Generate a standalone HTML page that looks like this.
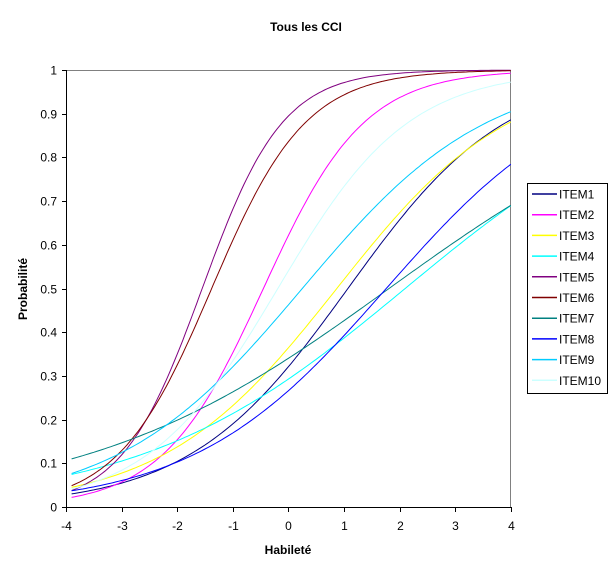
<!DOCTYPE html>
<html><head><meta charset="utf-8"><style>
body{margin:0;background:#fff;}
svg{display:block;font-family:"Liberation Sans",Arial,sans-serif;}
</style></head><body>
<svg id="s" width="613" height="574" viewBox="0 0 613 574" xmlns="http://www.w3.org/2000/svg">
<rect width="613" height="574" fill="#fff"/>
<text x="306" y="31" font-size="12" font-weight="bold" text-anchor="middle">Tous les CCI</text>
<text x="288" y="554" font-size="12" font-weight="bold" text-anchor="middle">Habileté</text>
<text transform="translate(27,289) rotate(-90)" font-size="12" font-weight="bold" text-anchor="middle">Probabilité</text>
<line x1="66" y1="70.5" x2="510" y2="70.5" stroke="#808080"/>
<line x1="510.5" y1="70" x2="510.5" y2="507" stroke="#808080"/>
<g id="curves" fill="none" stroke-width="1"></g>
<line x1="66.5" y1="70" x2="66.5" y2="508" stroke="#000"/>
<line x1="66" y1="507.5" x2="511" y2="507.5" stroke="#000"/>
<g id="ticks" stroke="#000"></g>
<g id="labels" font-size="12"></g>
<rect x="527.5" y="183.5" width="80" height="210" fill="#fff" stroke="#000"/>
<g id="legend" font-size="12"></g>
</svg>
<script>
var NS="http://www.w3.org/2000/svg";
function X(t){return 66+(t+4)*55.6;}
function Y(p){return 507-p*437;}
var items=[
["ITEM1","#000080",0.70,1.07],
["ITEM2","#ff00ff",1.1,-0.45],
["ITEM3","#ffff00",0.64,0.87],
["ITEM4","#00ffff",0.42,2.1],
["ITEM5","#800080",1.38,-1.55],
["ITEM6","#800000",1.18,-1.38],
["ITEM7","#008080",0.366,1.81],
["ITEM8","#0000ff",0.576,1.76],
["ITEM9","#00ccff",0.6,0.25],
["ITEM10","#ccffff",0.85,-0.19]];
var cg=document.getElementById("curves"),lg=document.getElementById("legend");
items.forEach(function(it,i){
 var d="";
 for(var t=-3.9;t<=4.0001;t+=0.05){
  var p=1/(1+Math.exp(-it[2]*(t-it[3])));
  d+=(d?"L":"M")+X(t).toFixed(1)+" "+Y(p).toFixed(1);
 }
 var pa=document.createElementNS(NS,"path");
 pa.setAttribute("d",d);pa.setAttribute("stroke",it[1]);cg.appendChild(pa);
 var y=194+i*20.7;
 var l=document.createElementNS(NS,"line");
 l.setAttribute("x1",532);l.setAttribute("x2",557);l.setAttribute("y1",y);l.setAttribute("y2",y);
 l.setAttribute("stroke",it[1]);l.setAttribute("stroke-width",1.5);lg.appendChild(l);
 var tx=document.createElementNS(NS,"text");
 tx.setAttribute("x",559);tx.setAttribute("y",y+4.5);tx.textContent=it[0];lg.appendChild(tx);
});
var tg=document.getElementById("ticks"),lb=document.getElementById("labels");
for(var k=0;k<=10;k++){
 var y=Math.round(Y(k/10))+0.5;
 var l=document.createElementNS(NS,"line");
 l.setAttribute("x1",62);l.setAttribute("x2",66);l.setAttribute("y1",y);l.setAttribute("y2",y);tg.appendChild(l);
 var t=document.createElementNS(NS,"text");
 t.setAttribute("x",57);t.setAttribute("y",y+4);t.setAttribute("text-anchor","end");
 t.textContent=k==0?"0":(k==10?"1":(k/10).toString());lb.appendChild(t);
}
for(var v=-4;v<=4;v++){
 var x=Math.round(X(v))+0.5;
 var l=document.createElementNS(NS,"line");
 l.setAttribute("x1",x);l.setAttribute("x2",x);l.setAttribute("y1",507);l.setAttribute("y2",512);tg.appendChild(l);
 var t=document.createElementNS(NS,"text");
 t.setAttribute("x",x);t.setAttribute("y",530);t.setAttribute("text-anchor","middle");
 t.textContent=v;lb.appendChild(t);
}
</script>
</body></html>
